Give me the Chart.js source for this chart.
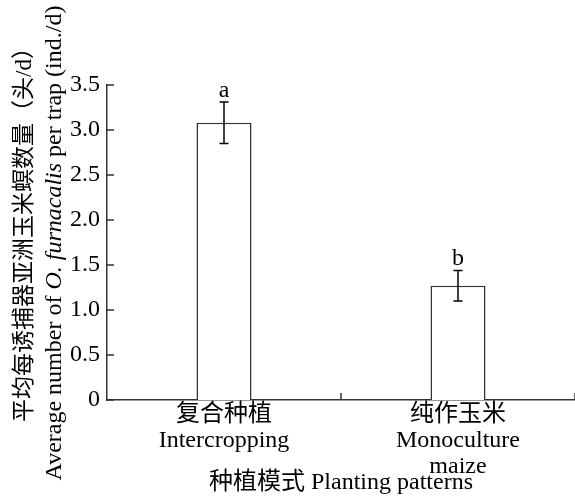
<!DOCTYPE html>
<html>
<head>
<meta charset="utf-8">
<script src="https://cdn.jsdelivr.net/npm/chart.js@4"></script>
<style>
  body { margin: 0; background: #fff; }
  canvas { display: block; }
</style>
</head>
<body>
<canvas id="trapChart" width="575" height="498"></canvas>
<script>
const categories = [["复合种植", "Intercropping"], ["纯作玉米", "Monoculture", "maize"]];
const means = [3.08, 1.27];
const errors = [0.23, 0.17];
const letters = ["a", "b"];

const FONT = '"Liberation Serif", "Noto Sans CJK SC", serif';
const AXIS = "#333";

// y title: two lines, species name in italics
const yTitleLines = [
      [{ text: "平均每诱捕器亚洲玉米螟数量（头/d）", italic: false, size: 23 }],
      [
            { text: "Average number of ", italic: false, size: 24 },
            { text: "O. furnacalis", italic: true, size: 24 },
            { text: " per trap (ind./d)", italic: false, size: 24 },
      ],
];

const extras = {
      id: "extras",
      afterDatasetsDraw(chart) {
            const ctx = chart.ctx;
            const y = chart.scales.y;
            const meta = chart.getDatasetMeta(0);
            ctx.save();
            ctx.strokeStyle = "#000";
            ctx.lineWidth = 1.5;
            meta.data.forEach((bar, i) => {
                  const top = y.getPixelForValue(means[i] + errors[i]);
                  const bot = y.getPixelForValue(means[i] - errors[i]);
                  ctx.beginPath();
                  ctx.moveTo(bar.x, top);
                  ctx.lineTo(bar.x, bot);
                  ctx.moveTo(bar.x - 4.5, top);
                  ctx.lineTo(bar.x + 4.5, top);
                  ctx.moveTo(bar.x - 4.5, bot);
                  ctx.lineTo(bar.x + 4.5, bot);
                  ctx.stroke();
                  ctx.fillStyle = "#000";
                  ctx.font = "24px " + FONT;
                  ctx.textAlign = "center";
                  ctx.textBaseline = "alphabetic";
                  ctx.fillText(letters[i], bar.x, top - 5);
            });
            ctx.restore();
      },
      afterDraw(chart) {
            const ctx = chart.ctx;
            const area = chart.chartArea;
            const x = chart.scales.x;
            const y = chart.scales.y;
            ctx.save();
            // inward tick marks
            ctx.strokeStyle = AXIS;
            ctx.lineWidth = 1.5;
            ctx.beginPath();
            y.ticks.forEach((t) => {
                  const py = y.getPixelForValue(t.value);
                  ctx.moveTo(area.left, py);
                  ctx.lineTo(area.left + 7, py);
            });
            for (let i = 0; i < categories.length; i++) {
                  const px = x.getPixelForValue(i + 0.5);
                  ctx.moveTo(px, area.bottom);
                  ctx.lineTo(px, area.bottom - 7);
            }
            ctx.stroke();

            // rotated y title
            ctx.fillStyle = "#000";
            ctx.textBaseline = "alphabetic";
            ctx.textAlign = "left";
            const centers = [{ x: 31, y: 229 }, { x: 61, y: 243 }];
            yTitleLines.forEach((parts, li) => {
                  let total = 0;
                  parts.forEach((p) => {
                        ctx.font = (p.italic ? "italic " : "") + p.size + "px " + FONT;
                        p.w = ctx.measureText(p.text).width;
                        total += p.w;
                  });
                  ctx.save();
                  ctx.translate(centers[li].x, centers[li].y);
                  ctx.rotate(-Math.PI / 2);
                  let pos = -total / 2;
                  parts.forEach((p) => {
                        ctx.font = (p.italic ? "italic " : "") + p.size + "px " + FONT;
                        ctx.fillText(p.text, pos, 0);
                        pos += p.w;
                  });
                  ctx.restore();
            });
            ctx.restore();
      },
};

new Chart(document.getElementById("trapChart"), {
      type: "bar",
      data: {
            labels: categories,
            datasets: [
                  {
                        data: means,
                        backgroundColor: "#fff",
                        borderColor: AXIS,
                        borderWidth: 1.5,
                        categoryPercentage: 1,
                        barPercentage: 0.235,
                  },
            ],
      },
      options: {
            responsive: false,
            animation: false,
            devicePixelRatio: 1,
            layout: { padding: { top: 85, right: 0, left: 0, bottom: 1 } },
            plugins: {
                  legend: { display: false },
                  tooltip: { enabled: false },
            },
            scales: {
                  x: {
                        grid: { display: false, drawTicks: false },
                        border: { display: true, color: AXIS, width: 1.5 },
                        ticks: {
                              color: "#000",
                              font: { family: FONT, size: 24, lineHeight: 1.08 },
                              padding: 2,
                              maxRotation: 0,
                              autoSkip: false,
                        },
                        title: {
                              display: true,
                              text: "种植模式 Planting patterns",
                              color: "#000",
                              font: { family: FONT, size: 24, lineHeight: 1.2 },
                              padding: { top: 0, bottom: 0 },
                        },
                        afterFit(scale) {
                              scale.height = 97;
                        },
                  },
                  y: {
                        min: 0,
                        max: 3.5,
                        grid: { display: false, drawTicks: false },
                        border: { display: true, color: AXIS, width: 1.5 },
                        ticks: {
                              stepSize: 0.5,
                              color: "#000",
                              font: { family: FONT, size: 24 },
                              padding: 7,
                              callback: (v) => (v === 0 ? "0" : v.toFixed(1)),
                        },
                        afterFit(scale) {
                              scale.width = 107;
                        },
                  },
            },
      },
      plugins: [extras],
});
</script>
</body>
</html>
